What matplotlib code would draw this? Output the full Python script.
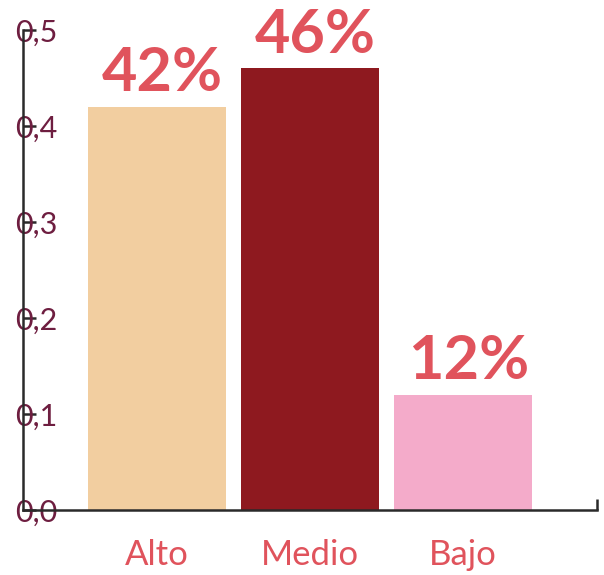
import numpy as np
import matplotlib.pyplot as plt

# datos
categorias = ["Alto", "Medio", "Bajo"]
valores = [0.42, 0.46, 0.12]
colores = ["#F2CEA0", "#8E191F", "#F4ABCA"]
yticks = [0.0, 0.1, 0.2, 0.3, 0.4, 0.5]
ytick_labels = ["0,0", "0,1", "0,2", "0,3", "0,4", "0,5"]

rojo = "#E0535C"
granate = "#6E1E40"
eje = "#2A2A2A"

plt.rcParams["font.family"] = ["Lato", "DejaVu Sans"]

fig = plt.figure(figsize=(6.04, 5.75), dpi=100)
ax = fig.add_axes([23 / 604, 65 / 575, 574 / 604, 480 / 575])

x = np.arange(len(categorias))
barras = ax.bar(x, valores, width=0.9, color=colores, zorder=1)

# etiquetas de porcentaje sobre cada barra
for xi, v in zip(x, valores):
    ax.annotate(f"{round(v * 100)}%", (xi, v), xytext=(4, 4),
                textcoords="offset points", ha="center", va="bottom",
                fontsize=44, fontweight="bold", color=rojo)

ax.set_xlim(-0.876, 2.876)
ax.set_ylim(0, 0.5)

for s in ["top", "right"]:
    ax.spines[s].set_visible(False)
for s in ["left", "bottom"]:
    ax.spines[s].set_color(eje)
    ax.spines[s].set_linewidth(1.8)
    ax.spines[s].set_zorder(3)

ax.set_yticks(yticks)
ax.set_yticklabels(ytick_labels, ha="left")
ax.tick_params(axis="y", direction="in", length=9, width=1.8, color=eje,
               pad=6, labelsize=22, labelcolor=granate)

ax.set_xticks(x)
ax.set_xticklabels(categorias)
ax.tick_params(axis="x", which="major", length=0, pad=21, labelsize=25,
               labelcolor=rojo)
ax.set_xticks([2.876], minor=True)
ax.tick_params(axis="x", which="minor", direction="in", length=8, width=1.8,
               color=eje)

fig.savefig("out.png", dpi=100)
